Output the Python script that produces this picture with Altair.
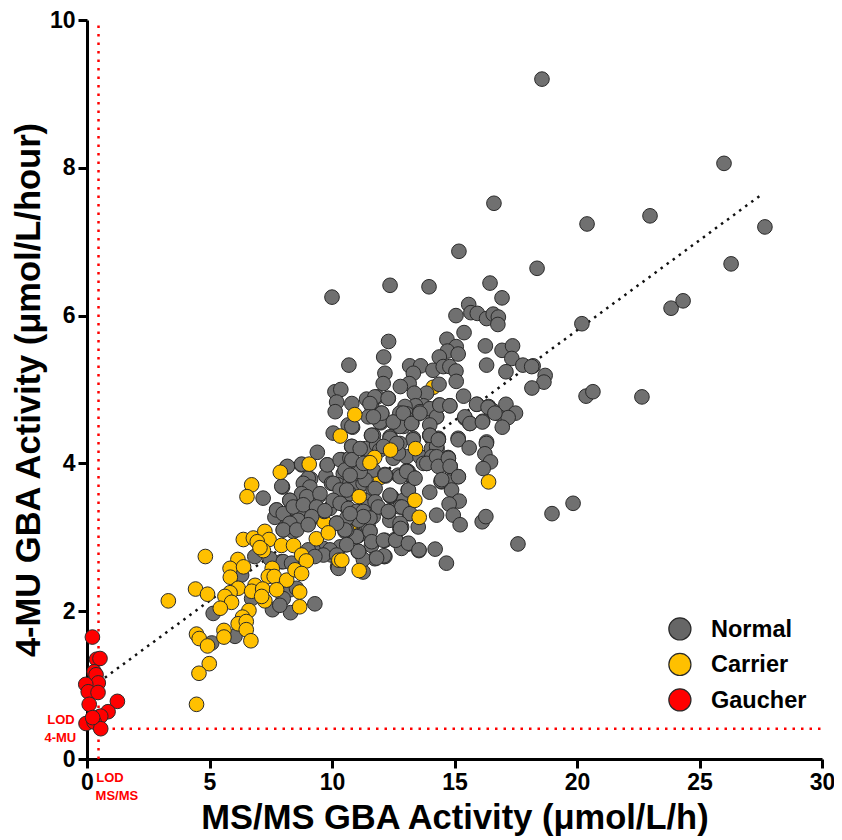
import altair as alt
import pandas as pd

normal_x = [18.57,26.0,16.61,20.41,22.98,27.67,26.29,18.37,15.18,16.45,10.0,12.37,13.96,16.94,23.84,24.33,20.2,20.37,20.65,22.65,19.84,18.98,17.59,
15.58,15.06,15.67,15.93,16.31,16.58,16.79,16.77,15.39,12.31,12.11,14.69,15.07,14.71,15.15,14.38,16.26,16.94,17.37,17.34,16.31,17.1,17.79,18.21,18.15,18.7,18.65,18.16,
12.16,12.09,13.17,13.62,13.32,13.15,12.79,14.12,14.54,14.81,15.06,15.07,14.37,13.86,13.36,15.37,15.92,16.39,16.58,16.81,17.1,17.49,17.19,16.95,16.15,15.63,15.43,14.81,14.38,14.27,13.73,13.41,12.98,13.96,13.52,13.05,13.25,12.91,12.53,12.3,11.85,12.03,11.99,11.62,12.37,13.32,14.0,14.34,15.15,16.31,11.69,
10.69,10.12,10.36,10.19,10.13,10.81,10.05,10.66,10.84,11.41,11.75,12.29,11.55,12.02,11.95,11.48,11.61,12.77,13.04,13.25,12.77,12.5,13.59,13.99,14.27,14.4,14.81,13.99,13.99,14.33,15.15,15.42,15.63,16.14,15.9,16.37,16.65,16.3,15.6,16.24,16.47,16.17,12.39,13.31,12.77,10.8,11.37,11.82,9.4,8.15,8.76,9.8,10.76,10.39,10.59,11.95,12.5,13.04,13.59,14.06,14.29,13.86,14.4,14.74,14.81,15.15,14.47,14.74,14.88,13.99,15.19,14.78,14.95,14.27,15.23,16.13,16.28,
13.11,13.31,12.7,12.19,11.68,11.14,10.46,9.75,9.98,9.13,8.89,7.98,7.19,8.96,9.44,10.25,10.73,10.93,11.27,11.68,12.43,13.11,12.91,8.28,8.69,9.23,10.32,9.91,10.59,11.34,11.82,12.29,12.77,13.15,7.74,8.49,8.85,9.68,7.67,8.21,8.69,9.1,10.21,11.27,11.68,12.36,12.77,13.52,8.01,8.42,10.53,11.07,11.55,12.16,12.61,13.07,13.55,14.21,14.67,9.64,9.98,10.23,10.59,11.1,11.61,11.75,12.12,11.27,7.94,6.85,
8.28,8.55,8.01,7.57,8.31,9.3,7.87,5.15,6.04,5.09,7.47,9.23,10.26,6.31,6.72,
14.82,14.75,14.45,14.34,14.27,14.07,13.73,13.05,13.32,13.12,12.78,12.37,12.3,12.84,12.57,13.12,12.16,12.84,12.16,
8.18,8.76,9.81,10.33,10.73,10.53,9.03,8.83,9.1,10.05,10.33,10.73,11.0,11.35,7.95,8.76,8.97,9.51,8.28,7.74,8.01,8.42,8.83,9.37,10.05,10.33,10.67,11.0,11.41,8.62,9.17,9.71,10.19,8.28,8.01,8.56,9.03,11.0,10.6,11.48,11.07,10.33,9.92,9.65,11.28,8.01,8.35,9.03,9.3,
12.03,11.69,11.62,10.81,10.81,10.81,11.15,12.37,12.91,13.25,13.59,12.71,14.0,14.34,13.87,14.27,14.34,14.75,14.82,15.16,14.48,12.17,13.05,13.39,11.15,10.74,11.76,12.37,10.6,11.76,12.3,11.28,11.89,12.85,13.19,12.78,11.55,11.08,10.6,11.28,12.1,12.64,
12.3,11.55,10.53,10.19,11.08,11.62,12.1,12.6,12.8,13.12,13.55,12.12,11.82,10.6,10.19,10.26,11.28,10.74]
normal_y = [9.2,8.06,7.52,7.24,7.35,7.2,6.7,6.64,6.87,6.44,6.25,6.41,6.39,6.24,6.1,6.2,5.89,4.91,4.97,4.9,3.46,3.32,2.91,
6.15,6.0,6.04,6.03,5.96,6.02,5.98,5.88,5.77,5.65,5.44,5.68,5.58,5.52,5.48,5.44,5.59,5.53,5.59,5.42,5.33,5.24,5.33,5.32,5.31,5.19,5.1,5.02,
5.22,5.08,5.32,5.32,5.22,5.08,5.04,5.26,5.31,5.31,5.25,5.11,5.07,4.95,4.95,4.91,4.8,4.77,4.71,4.67,4.8,4.68,4.62,4.49,4.57,4.54,4.61,4.78,4.79,4.63,4.78,4.78,4.77,4.7,4.67,4.67,4.55,4.5,4.56,4.88,4.9,4.67,4.55,4.77,4.36,4.34,4.38,4.34,4.34,4.29,4.38,
5.33,4.97,5.0,4.83,4.7,4.81,4.41,4.52,4.49,4.87,4.9,4.88,4.81,4.68,4.56,4.63,4.38,4.68,4.61,4.54,4.5,4.56,4.7,4.74,4.63,4.79,4.78,4.52,4.38,4.32,4.32,4.63,4.54,4.56,4.8,4.76,4.68,4.27,4.21,4.13,4.02,3.93,4.32,4.32,4.27,4.23,4.2,4.25,4.15,3.95,3.98,3.98,4.05,4.05,3.98,4.18,4.07,4.09,4.09,4.2,4.2,4.0,4.0,4.08,3.96,3.82,3.75,3.75,3.64,3.61,3.49,3.45,3.3,3.3,3.17,3.21,3.28,
3.89,3.8,3.84,3.83,3.91,3.89,3.86,3.83,3.73,3.79,3.75,3.68,3.53,3.59,3.55,3.71,3.73,3.71,3.73,3.64,3.55,3.64,3.5,3.5,3.46,3.46,3.48,3.39,3.41,3.5,3.41,3.35,3.41,3.32,3.37,3.32,3.35,3.35,3.27,3.21,3.19,3.23,3.19,3.32,3.28,3.23,3.12,3.14,3.1,3.08,3.08,3.02,3.08,2.96,2.96,2.91,2.82,2.84,2.65,2.85,2.76,2.6,2.9,2.8,2.89,2.71,2.74,2.53,2.67,2.74,
2.29,2.31,2.17,2.02,1.98,2.1,2.08,1.97,1.66,1.57,2.71,2.83,2.65,2.49,2.17,
3.96,4.07,3.76,4.32,4.23,4.09,4.0,3.9,3.81,3.64,3.82,3.56,3.35,3.14,2.97,2.91,2.74,2.85,3.85,
3.96,3.99,3.98,4.05,4.07,3.91,3.8,3.73,3.68,3.73,3.64,3.59,3.87,3.78,3.69,3.59,3.55,3.59,3.5,3.37,3.32,3.41,3.44,3.41,3.5,3.46,3.39,3.35,3.41,3.23,3.28,3.36,3.19,3.19,3.1,3.1,3.17,3.01,3.1,3.14,2.81,2.87,2.83,2.76,2.7,2.67,2.65,2.83,2.74,
4.68,4.63,4.38,4.5,4.23,4.05,4.2,4.34,4.68,4.54,4.68,4.14,4.38,4.32,4.0,4.09,3.96,4.07,3.96,3.82,3.78,3.84,3.89,3.8,3.89,3.84,3.66,3.57,3.64,3.48,3.35,3.35,3.41,3.41,3.32,3.19,3.26,3.23,3.26,4.0,4.23,4.27,
3.35,3.08,3.1,3.19,2.81,2.94,2.96,2.96,3.12,2.92,2.83,2.75,2.72,2.9,2.76,2.58,3.28,3.32]

covered_carrier_x = [14.13,11.97,9.67,10.84]
covered_carrier_y = [5.03,3.81,3.21,3.14]

carrier_x = [4.83,3.32,4.43,4.92,6.38,6.79,7.26,7.43,6.95,7.2,7.06,7.94,8.43,8.76,8.95,9.36,9.85,10.28,6.16,5.84,6.39,5.85,7.56,7.4,7.64,8.15,8.49,8.76,6.86,6.17,5.84,5.63,6.72,7.17,7.74,7.26,7.13,8.68,8.68,5.9,5.44,6.61,6.35,6.17,6.5,5.59,6.5,5.59,6.69,4.47,4.58,4.92,4.99,4.57,4.47,
10.93,10.34,9.07,7.89,6.72,6.53,12.39,13.41,11.74,11.55,16.39,11.11,13.38,13.56,10.4,11.11]
carrier_y = [2.74,2.14,2.3,2.23,2.97,2.99,3.08,2.97,2.94,2.82,2.86,2.89,2.89,2.76,2.68,2.98,3.06,2.69,2.7,2.58,2.6,2.46,2.58,2.47,2.47,2.42,2.56,2.51,2.35,2.31,2.25,2.2,2.27,2.3,2.29,2.14,2.2,2.26,2.06,2.12,2.04,2.01,1.92,1.83,1.86,1.74,1.75,1.65,1.6,1.69,1.63,1.53,1.29,1.16,0.74,
4.66,4.37,3.99,3.88,3.71,3.55,4.18,4.2,4.08,4.01,3.75,3.55,3.5,3.27,2.69,2.55]

gaucher_x = [0.22,0.39,0.53,0.29,0.37,0.46,-0.05,0.05,0.45,0.09,1.24,0.86,0.5,0.56,-0.04,0.29,0.56,0.23]
gaucher_y = [1.65,1.35,1.36,1.18,1.14,1.03,1.01,0.91,0.9,0.74,0.78,0.64,0.57,0.58,0.48,0.5,0.41,0.56]

trend_x = [0.73, 27.5]
trend_y = [1.1, 7.63]

legend_names = ["Normal", "Carrier", "Gaucher"]
legend_x = [24.2, 24.2, 24.2]
legend_text_x = [25.47, 25.47, 25.47]
legend_y = [1.76, 1.28, 0.8]

lod_labels = ["LOD", "4-MU", "LOD", "MS/MS"]
lod_label_x = [-1.06, -1.09, 0.94, 1.22]
lod_label_y = [0.53, 0.28, -0.26, -0.5]

GREY, AMBER, RED = "#707070", "#FFC000", "#FF0000"
FONT = "Liberation Sans"
xs = alt.Scale(domain=[0, 30], nice=False, zero=False)
ys = alt.Scale(domain=[0, 10], nice=False, zero=False)


def pts(xv, yv, fill, size=215):
    df = pd.DataFrame({"x": xv, "y": yv})
    return alt.Chart(df).mark_point(
        shape="circle", filled=True, size=size, fill=fill, stroke="#2a2a2a",
        strokeWidth=1, opacity=1, fillOpacity=1, strokeOpacity=1,
    ).encode(x=alt.X("x:Q", scale=xs), y=alt.Y("y:Q", scale=ys))


frame = alt.Chart(pd.DataFrame({"x": [0.0], "y": [0.0]})).mark_point(opacity=0).encode(
    x=alt.X("x:Q", scale=xs, axis=alt.Axis(
        title="MS/MS GBA Activity (μmol/L/h)", values=[0, 5, 10, 15, 20, 25, 30], format="d", titlePadding=7)),
    y=alt.Y("y:Q", scale=ys, axis=alt.Axis(
        title="4-MU GBA Activity (μmol/L/hour)", values=[0, 2, 4, 6, 8, 10], format="d", titlePadding=3)),
)

lod_v = alt.Chart(pd.DataFrame({"x": [0.47, 0.47], "y": [0, 10]})).mark_line(
    color=RED, strokeWidth=2.5, strokeDash=[2.5, 6]).encode(x=alt.X("x:Q", scale=xs), y=alt.Y("y:Q", scale=ys))
lod_h = alt.Chart(pd.DataFrame({"x": [0, 30], "y": [0.41, 0.41]})).mark_line(
    color=RED, strokeWidth=2.5, strokeDash=[2.5, 6]).encode(x=alt.X("x:Q", scale=xs), y=alt.Y("y:Q", scale=ys))
trend = alt.Chart(pd.DataFrame({"x": trend_x, "y": trend_y})).mark_line(
    color="#111111", strokeWidth=2.5, strokeDash=[2.5, 5]).encode(x=alt.X("x:Q", scale=xs), y=alt.Y("y:Q", scale=ys))

lod_text = alt.Chart(pd.DataFrame({"x": lod_label_x, "y": lod_label_y, "t": lod_labels})).mark_text(
    font=FONT, fontWeight="bold", fontSize=13, color=RED, align="center", baseline="middle"
).encode(x=alt.X("x:Q", scale=xs), y=alt.Y("y:Q", scale=ys), text="t:N")

leg = pd.DataFrame({"x": legend_x, "tx": legend_text_x, "y": legend_y, "t": legend_names})
leg_pts = alt.Chart(leg).mark_point(
    shape="circle", filled=True, size=490, stroke="#2a2a2a", strokeWidth=1.2, opacity=1
).encode(
    x=alt.X("x:Q", scale=xs), y=alt.Y("y:Q", scale=ys),
    fill=alt.Fill("t:N", scale=alt.Scale(domain=legend_names, range=["#666666", AMBER, RED]), legend=None),
)
leg_txt = alt.Chart(leg).mark_text(
    font=FONT, fontWeight="bold", fontSize=23.5, color="#000000", align="left", baseline="middle", dy=1
).encode(x=alt.X("tx:Q", scale=xs), y=alt.Y("y:Q", scale=ys), text="t:N")

chart = alt.layer(
    frame, lod_v, lod_h, trend,
    pts(covered_carrier_x, covered_carrier_y, AMBER),
    pts(normal_x, normal_y, GREY),
    pts(carrier_x, carrier_y, AMBER),
    pts(gaucher_x, gaucher_y, RED),
    lod_text, leg_pts, leg_txt,
).properties(
    width=735, height=739,
    autosize=alt.AutoSizeParams(type="none"),
    padding={"left": 79, "top": 12, "right": 12, "bottom": 78},
    background="white",
).configure_view(stroke=None).configure_axis(
    grid=False, domainColor="#000000", domainWidth=3, tickColor="#000000", tickWidth=3,
    tickSize=9, labelFont=FONT, labelFontWeight="bold", labelFontSize=23, labelColor="#000000",
    labelPadding=3, titleFont=FONT, titleFontWeight="bold", titleFontSize=34.5, titleColor="#000000",
    labelFlush=False, labelOverlap=False,
)

chart.save("out.html", embed_options={"renderer": "svg", "actions": False})
